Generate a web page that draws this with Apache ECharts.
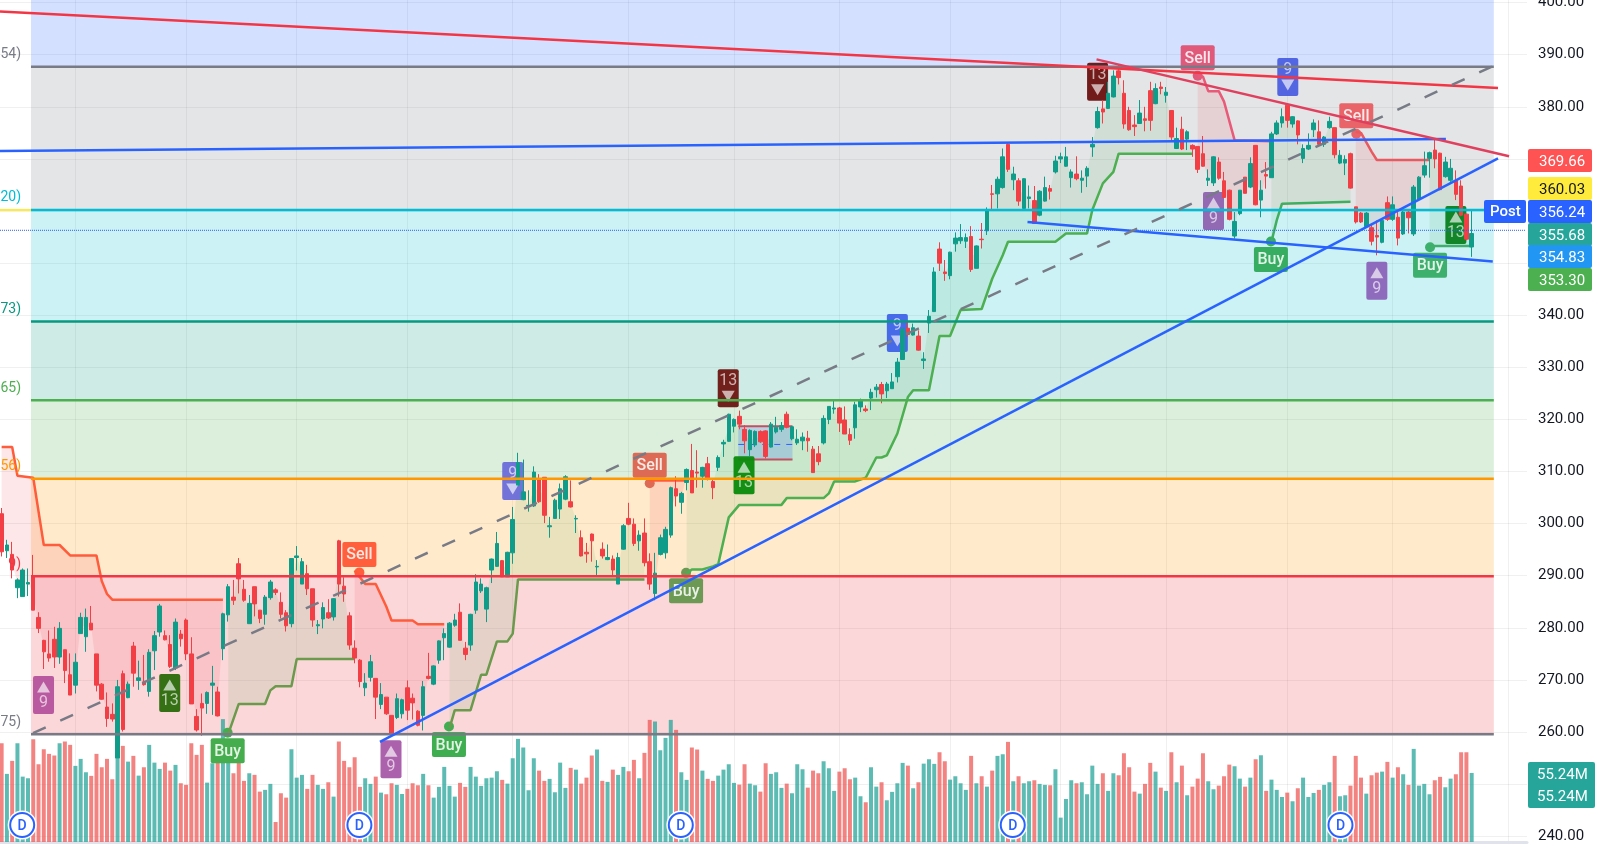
<!DOCTYPE html>
<html>
<head>
<meta charset="utf-8">
<title>Chart</title>
<style>
html, body { margin: 0; padding: 0; background: #fff; }
#chart { width: 1600px; height: 851px; }
</style>
<script src="https://cdn.jsdelivr.net/npm/echarts@6/dist/echarts.min.js"></script>
</head>
<body>
<div id="chart"></div>
<script>
// open, close, low, high
const candles = [
[301.9,294.6,293.7,303.0],[294.8,295.9,293.4,296.9],[294.1,291.1,289.5,296.5],[287.7,289.2,285.7,289.5],[286.0,291.1,286.0,291.4],
[288.4,288.7,286.1,291.4],[290.0,283.4,283.4,294.0],[282.0,279.9,279.0,283.0],[277.6,275.4,272.1,277.7],[275.0,274.2,273.5,279.5],
[277.8,274.4,272.3,280.2],[274.4,279.9,273.1,281.1],[275.8,271.8,269.4,275.8],[271.0,267.1,267.1,275.1],[269.0,273.4,267.4,275.1],
[278.9,282.0,278.9,282.9],[278.3,282.0,275.4,283.7],[280.9,279.6,279.6,284.2],[275.0,269.0,267.8,275.0],[269.2,266.3,266.2,269.4],
[264.8,262.6,261.0,267.6],[263.4,262.5,262.0,265.5],[255.0,268.7,255.0,270.0],[271.2,260.5,260.1,271.8],[266.6,269.2,266.5,269.7],
[276.5,271.3,268.7,277.3],[269.9,270.4,268.1,273.7],[269.6,269.1,268.9,274.8],[267.8,275.3,266.8,275.9],[275.6,278.5,271.9,279.4],
[279.2,284.2,278.3,284.6],[278.5,277.7,277.6,279.5],[276.8,272.6,272.3,278.6],[272.3,281.1,271.9,281.8],[278.8,277.9,276.4,279.6],
[281.5,275.0,273.8,281.8],[275.0,265.4,265.4,278.2],[263.0,260.4,260.1,264.4],[265.5,264.6,259.3,267.4],[265.5,267.6,263.5,267.8],
[269.0,269.4,263.3,272.7],[267.7,263.1,263.0,268.7],[276.0,282.7,273.8,282.9],[282.5,287.9,281.2,288.4],[285.9,285.3,284.4,289.2],
[292.3,289.4,286.6,293.4],[287.4,285.3,285.0,289.2],[280.8,284.7,280.8,286.3],[287.9,284.6,282.2,287.9],[283.4,281.8,280.9,283.4],
[282.6,285.9,280.6,286.3],[285.8,288.8,285.4,289.2],[287.3,286.8,286.3,287.6],[284.9,282.6,281.8,286.8],[282.9,280.4,279.3,283.4],
[280.8,293.3,280.1,293.3],[293.5,293.8,291.0,295.7],[288.4,292.7,288.4,293.4],[290.4,287.5,286.3,292.1],[287.5,281.5,280.2,287.5],
[280.4,280.6,278.8,281.5],[281.7,283.9,279.9,284.9],[282.9,281.9,281.7,285.5],[282.1,285.6,281.4,285.7],[296.7,288.4,286.0,296.9],
[288.0,286.5,285.0,289.7],[282.3,276.7,275.8,283.0],[276.1,274.2,273.2,277.6],[273.8,269.7,268.6,274.0],[268.5,269.4,266.9,271.3],
[270.5,273.5,269.7,274.8],[270.3,266.7,262.5,270.3],[265.3,267.2,264.4,269.4],[266.7,263.5,263.3,266.7],[263.2,259.6,259.4,263.2],
[262.8,266.4,262.5,267.4],[263.5,266.2,262.6,266.4],[268.5,264.2,262.3,269.9],[266.5,265.6,262.4,267.4],[264.0,261.3,261.1,264.2],
[263.2,268.7,260.3,269.8],[270.7,270.3,270.1,275.2],[269.2,272.7,269.0,272.8],[273.8,277.5,273.1,277.6],[278.1,278.9,273.8,279.9],
[276.3,280.9,276.2,281.1],[280.5,281.5,280.2,282.7],[283.0,277.6,277.6,284.7],[276.1,274.9,273.8,277.3],[276.7,282.6,275.6,282.7],
[283.4,288.8,282.7,290.3],[287.1,288.4,286.7,289.5],[283.6,287.7,281.1,287.9],[291.1,293.2,288.6,293.3],[291.8,296.2,291.7,298.4],
[292.9,289.8,289.8,293.0],[289.8,294.5,289.8,294.6],[294.4,300.8,292.3,303.2],[307.4,311.7,307.4,313.6],[304.6,306.1,304.5,312.3],
[303.4,303.5,302.3,306.4],[303.4,309.9,303.2,311.0],[308.6,304.2,304.0,309.5],[308.9,301.6,300.1,308.9],[299.4,299.6,297.3,301.3],
[301.0,304.5,301.0,304.8],[302.8,306.7,300.9,307.7],[304.7,309.0,304.5,309.3],[304.2,303.2,303.1,308.3],[300.9,301.0,298.2,301.6],
[297.3,293.8,293.7,298.7],[294.5,294.2,292.5,296.3],[298.0,296.7,292.7,298.1],[291.7,291.8,290.0,293.0],[295.1,293.8,293.3,296.4],
[293.1,293.5,293.0,296.0],[293.2,291.1,290.1,293.9],[288.4,293.5,288.4,294.4],[295.1,299.6,295.0,299.9],[301.0,299.9,299.7,304.0],
[299.9,296.2,295.7,301.0],[296.7,297.8,294.8,298.7],[298.2,292.5,291.8,301.0],[292.7,288.4,287.3,294.3],[286.6,290.5,285.3,294.4],
[294.1,297.3,293.9,297.9],[294.4,298.9,293.3,299.4],[297.8,306.9,297.3,307.1],[306.7,305.3,303.3,309.1],[304.1,305.8,301.9,306.1],
[307.9,310.4,306.4,310.6],[310.2,305.9,305.9,315.3],[309.9,309.7,306.9,314.1],[309.1,310.8,306.9,310.9],[311.5,308.6,308.3,312.8],
[308.1,306.9,304.7,308.5],[310.8,312.7,310.1,313.1],[315.3,315.6,312.8,316.1],[315.8,321.0,315.7,321.1],[318.7,320.0,317.5,320.2],
[320.6,319.1,318.1,321.7],[318.1,315.9,313.5,318.9],[314.2,317.9,312.8,318.1],[315.1,317.7,314.7,317.9],[317.7,315.7,315.5,317.9],
[317.8,312.9,312.5,317.9],[314.7,319.1,314.6,319.5],[317.6,318.5,317.3,320.5],[318.1,318.8,317.6,319.5],[321.0,318.5,318.3,321.5],
[316.3,318.6,316.0,318.7],[315.5,316.2,315.1,318.1],[315.9,316.6,314.1,317.5],[316.4,315.9,313.8,317.8],[314.3,309.8,309.8,314.9],
[313.4,311.9,311.2,314.9],[315.5,320.2,315.2,320.8],[320.0,322.5,319.1,322.5],[322.0,322.2,321.1,323.6],[322.2,319.3,317.6,322.4],
[319.9,317.2,317.2,322.5],[317.1,316.0,315.1,318.3],[318.4,322.8,316.3,323.4],[322.4,323.6,321.4,324.0],[322.0,321.7,321.4,322.7],
[324.1,325.2,321.8,325.9],[325.7,326.2,324.2,326.8],[326.7,324.9,323.1,327.2],[325.5,326.8,324.1,327.2],[325.9,327.2,325.9,328.9],
[328.2,331.0,327.1,331.8],[331.5,337.3,331.5,337.5],[337.5,336.3,335.9,338.7],[336.2,337.6,336.1,338.4],[336.0,333.3,333.2,337.1],
[331.3,331.6,329.7,332.9],[338.5,339.8,336.6,341.0],[340.7,348.3,340.7,349.2],[352.7,350.0,348.5,354.0],[348.3,348.0,346.6,350.6],
[347.6,352.1,346.9,352.2],[353.7,354.8,352.2,355.9],[354.3,354.9,353.7,357.5],[354.2,354.9,352.9,355.7],[355.1,348.8,348.3,357.1],
[349.0,353.3,349.0,353.4],[354.6,354.5,352.8,357.7],[356.2,360.3,355.4,360.7],[363.3,363.2,360.2,365.0],[363.3,366.1,360.5,366.6],
[364.5,370.4,364.3,372.0],[372.8,368.0,367.5,373.0],[366.0,367.1,364.0,368.5],[365.8,361.9,361.0,366.3],[360.5,366.2,360.5,366.3],
[362.4,362.7,360.5,364.9],[362.0,357.6,357.6,364.8],[359.2,363.8,359.0,364.0],[361.9,364.5,361.8,366.6],[364.3,363.8,362.2,365.0],
[367.5,369.6,367.2,370.6],[370.0,370.4,369.2,371.2],[368.6,370.4,368.5,372.3],[366.4,367.5,364.5,368.0],[367.1,366.2,365.9,370.5],
[365.9,366.3,363.5,367.8],[366.7,368.2,364.6,368.6],[372.3,372.8,370.4,374.2],[376.0,379.1,375.8,380.0],[379.6,379.0,376.8,381.3],
[379.7,382.6,379.6,384.8],[381.9,385.9,381.8,387.0],[386.9,385.6,384.3,388.0],[382.6,376.7,375.8,385.1],[379.3,375.6,375.4,380.0],
[376.5,376.2,374.4,378.4],[376.8,378.8,376.7,381.3],[377.7,377.4,375.3,380.0],[383.1,377.4,375.4,384.8],[380.6,383.5,380.5,384.5],
[383.8,383.5,382.4,384.8],[382.2,382.8,380.8,383.8],[379.3,374.2,373.3,379.3],[372.0,373.9,371.9,376.0],[375.7,371.9,371.7,378.1],
[373.8,375.2,371.7,375.5],[372.6,371.9,370.4,372.8],[372.4,368.0,367.3,372.4],[371.0,368.6,368.5,374.4],[365.9,366.3,364.8,368.0],
[365.4,370.4,364.8,370.5],[369.4,366.3,366.0,370.3],[365.8,362.6,362.5,367.5],[364.0,358.4,358.2,364.1],[355.2,358.0,354.7,359.8],
[359.5,364.0,359.2,364.0],[366.5,363.4,363.4,366.5],[364.6,369.1,364.4,370.3],[372.6,361.2,361.1,372.6],[362.1,364.0,358.8,365.9],
[367.0,366.7,364.3,369.4],[366.4,374.8,366.4,375.2],[374.8,376.9,374.6,377.4],[376.9,378.1,376.0,379.7],[380.3,377.4,376.0,380.3],
[376.7,378.1,376.0,378.2],[377.3,374.6,372.8,377.4],[370.1,372.0,369.2,372.8],[371.9,372.6,371.7,374.9],[375.6,376.9,374.2,377.6],
[375.2,372.8,372.6,377.4],[372.8,374.2,372.3,374.4],[376.0,377.2,375.8,378.1],[376.0,370.8,370.1,376.0],[369.2,370.7,369.0,371.7],
[369.2,369.9,366.9,370.7],[371.0,364.4,364.3,371.2],[360.8,357.9,357.6,360.8],[359.6,357.9,357.7,359.8],[357.0,359.6,356.8,359.8],
[356.8,354.2,353.4,357.3],[355.3,355.0,351.5,358.2],[354.0,358.2,353.8,358.6],[361.6,358.4,358.1,362.8],[358.4,361.2,358.1,362.8],
[358.8,354.8,353.4,360.2],[355.6,359.8,355.4,360.2],[359.8,358.7,355.7,360.2],[355.6,364.6,355.2,365.0],[362.2,366.5,362.1,366.7],
[366.9,368.7,366.4,371.4],[370.1,371.2,366.4,371.4],[371.7,370.0,368.2,373.7],[371.1,364.1,364.0,371.2],[366.6,369.4,366.4,370.4],
[365.9,368.2,365.6,370.0],[365.8,363.2,362.1,367.8],[364.8,359.2,359.0,365.9],[359.4,354.6,354.4,359.5],[353.1,355.68,351.2,360.2]
];

// millions
const volumes = [
79.0,54.5,64.9,79.0,52.3,51.0,82.2,62.2,74.2,70.5,69.2,79.0,80.4,77.7,60.9,66.5,55.8,52.9,70.5,59.8,
66.5,50.2,67.0,76.9,64.3,68.9,53.1,59.8,77.7,63.5,58.5,63.5,57.1,61.7,47.0,45.7,79.0,69.7,77.7,47.5,
63.0,64.3,98.3,65.7,55.0,65.7,48.9,55.0,53.7,40.3,41.7,46.5,16.0,39.0,35.5,74.2,51.5,53.7,42.5,53.7,
45.7,42.5,47.8,36.3,80.4,64.9,59.8,67.8,44.1,51.0,46.5,52.3,39.5,38.2,47.0,45.7,38.4,42.5,47.0,45.4,
54.5,45.4,35.5,44.1,60.1,44.9,36.3,47.3,44.1,60.1,52.3,44.9,51.0,51.5,56.6,49.7,46.7,67.0,82.5,75.6,
41.4,67.0,57.1,48.9,50.5,39.8,63.5,43.3,59.3,57.9,46.7,51.5,69.2,74.0,48.9,48.1,57.9,53.7,60.1,56.6,
65.7,51.0,71.3,97.7,96.4,73.4,83.3,97.7,89.7,55.8,49.7,75.6,74.0,57.1,50.5,48.9,53.1,57.9,62.2,47.3,
45.9,62.2,46.7,45.4,40.3,63.0,54.5,55.8,43.3,46.7,39.0,62.2,58.2,43.5,57.1,55.0,64.6,59.0,40.9,56.3,
59.0,50.2,51.5,36.6,31.8,59.8,44.3,47.8,33.4,40.1,47.0,63.3,61.1,43.0,47.8,62.7,66.2,62.5,71.8,64.6,
49.9,52.6,47.0,41.7,68.9,47.0,52.6,44.3,57.1,68.9,70.2,80.1,48.6,52.6,47.0,48.6,49.4,46.5,45.7,45.4,
58.2,19.5,34.4,49.4,47.0,47.8,38.2,61.1,46.5,55.0,40.9,55.0,53.4,71.0,59.8,40.3,38.7,46.5,63.3,56.3,
43.5,40.9,71.8,47.8,61.1,37.4,44.3,50.7,71.0,48.6,42.2,45.1,52.6,61.9,60.6,50.7,44.3,51.5,66.2,69.4,
40.9,49.9,41.7,36.0,39.5,32.6,43.0,51.5,36.0,39.2,41.7,45.7,47.8,68.9,36.6,37.4,45.1,68.9,51.5,38.7,
53.4,55.5,56.3,64.1,51.5,59.8,54.2,45.7,74.5,45.1,46.5,38.2,49.4,52.1,43.8,50.7,54.2,71.8,71.8,55.24
];

const slotCount = 290;
const priceLabels = [400,390,380,340,330,320,310,300,290,280,270,260,240];
const priceGrid = [240,250,260,270,280,290,300,310,320,330,340,350,360,370,380,390,400];
const dateLines = [14.5,35.5,56.5,77.5,97.5,119.5,139.5,159.5,180.5,201.5,221.5,244.5,264.5,286.5];

// fib levels from the top down, each zone is filled up to the level above
const fibStart = 6.07, fibEnd = 283.7;
const fibLevels = [387.7,360.2,338.8,323.7,308.6,289.9,259.6];
const fibColors = ['#787b86','#00bcd4','#089981','#4caf50','#ff9800','#f23645','#787b86'];
const fibZoneColors = ['rgba(41,98,255,.2)','rgba(120,123,134,.2)','rgba(0,188,212,.2)','rgba(8,153,129,.2)','rgba(76,175,80,.2)','rgba(255,152,0,.2)','rgba(242,54,69,.2)'];
const fibTags = ['54)','20)','73)','65)','56)','9)','75)'];

// supertrend pieces, [bar, price]
const redTrends = [
  [[0,314.7],[2,314.7],[3,309.2],[6,308.8],[8,295.9],[11,295.9],[13,293.9],[18,293.9],[19,289],[20,286.5],[21,285.4],[42,285.4]],
  [[67,291],[69,288.4],[71,288.4],[73,284.1],[74,281.4],[78,281.4],[79,280.7],[84,280.7]],
  [[123,308.3],[130,308.3]],
  [[227,385.8],[228,385.8],[229,383],[231,383],[232,381],[234,373.6],[241,373.4]],
  [[257,375.2],[258,375],[260,371.4],[261,369.8],[271,369.8]]
];
const redTrendColors = ['#ff5c3c','#ff5c3c','#ff5c3c','#e85a78','#e85a60'];
const greenTrends = [
  [[43,259.6],[45,265.4],[50,265.4],[51,268],[52,268.8],[55,268.8],[56,274],[67,274]],
  [[85,260.7],[86,264.2],[89,264.2],[91,271],[92,271],[94,277.4],[96,277.4],[97,278.9],[98,289.3],[122,289.3]],
  [[130,290.4],[131,291.2],[133,291.2],[135,291.8],[136,292.2],[138,301.2],[140,303.6],[148,303.6],[149,304.9],[156,304.9],[157,305.8],[158,308.1],[162,308.1],[164,308.8],[166,312.7],[167,312.7],[168,313.1],[170,317.3],[172,324.3],[173,325.6],[176,325.6],[178,336],[180,336],[182,341],[186,341.2],[188,347],[190,351.5],[191,354.1],[200,354.1],[202,355.7],[206,355.7],[207,360.2],[209,365.3],[211,367.5],[212,371],[226,371]],
  [[241,354.1],[242,358.2],[243,361.4],[256,361.8]],
  [[271,353.1],[272,353.3],[279,353.3]]
];
const greenTrendColors = ['#6b9a4c','#6b9a4c','#4caf50','#3fae5f','#3fae6a'];

// drawn lines
const trendLines = [
  {from:[0.19,398.3], to:[284.5,383.6], color:'#f23645'},
  {from:[0.19,371.5], to:[274.6,373.8], color:'#2962ff'},
  {from:[208.3,389.1], to:[286.6,370.5], color:'#e0405e'},
  {from:[72.3,258.1], to:[284.5,370.1], color:'#2962ff'},
  {from:[195.2,357.9], to:[283.5,350.3], color:'#2962ff'},
  {from:[6.45,259.8], to:[283.5,387.8], color:'#787b86', type:[14,16]}
];
const preMarketPrice = 360.2, postPrice = 356.3;
const boxRange = {x0:140.3, x1:150.6, top:318.7, mid:315.2, bottom:312.3};

const tdMarks = [
  {x:8.45,y:267.1,n:'9',up:true,c:'#b5529c'},{x:32.4,y:267.5,n:'13',up:true,c:'#2a6a0a'},{x:74.4,y:254.8,n:'9',up:true,c:'#a858a8'},
  {x:97.5,y:308.2,n:'9',up:false,c:'#6a6cd8'},{x:138.4,y:326.0,n:'13',up:false,c:'#6b1510'},{x:141.4,y:309.3,n:'13',up:true,c:'#0a8a0a'},
  {x:170.5,y:336.6,n:'9',up:false,c:'#3f63e8'},{x:208.5,y:384.8,n:'13',up:false,c:'#6b1010'},{x:230.5,y:360.0,n:'9',up:true,c:'#8e62b0'},
  {x:244.6,y:385.7,n:'9',up:false,c:'#4b5ee0'},{x:261.5,y:346.6,n:'9',up:true,c:'#8a63b8'},{x:276.5,y:357.3,n:'13',up:true,c:'#0a7f1f'}
];
const signalMarks = [
  {x:68.4,y:294.1,t:'Sell',c:'#ff5f3c'},{x:43.4,y:256.4,t:'Buy',c:'#45ad4e'},{x:85.4,y:257.6,t:'Buy',c:'#3fae50'},
  {x:123.5,y:311.2,t:'Sell',c:'#dc6a55'},{x:130.4,y:287.1,t:'Buy',c:'#6c9a55'},{x:227.5,y:389.4,t:'Sell',c:'#e0587a'},
  {x:241.4,y:350.7,t:'Buy',c:'#37ad62'},{x:257.6,y:378.3,t:'Sell',c:'#e86468'},{x:271.6,y:349.6,t:'Buy',c:'#3cb06c'}
];
const dividendBars = [4.4,68.4,129.4,192.4,254.6];

const priceTags = [
  {text:'369.66', top:149, fill:'#ff5252', color:'#fff'},
  {text:'360.03', top:177, fill:'#ffeb3b', color:'#131722'},
  {text:'356.24', top:200, fill:'#2962ff', color:'#fff'},
  {text:'355.68', top:223, fill:'#26a69a', color:'#fff'},
  {text:'354.83', top:245, fill:'#2196f3', color:'#fff'},
  {text:'353.30', top:268, fill:'#4caf50', color:'#fff'}
];
const volumeTags = ['55.24M','55.24M'];

const UP = '#0f9d8a', DOWN = '#f23f45';
const FONT = 'Roboto, sans-serif';

function customSeries(rows, z, build) {
    return {
        type: 'custom',
        xAxisIndex: 1,
        yAxisIndex: 0,
        z: z,
        silent: true,
        data: rows.map((r, i) => [i, 300]),
        encode: {x: 0, y: 1},
        renderItem: (params, api) => build(rows[params.dataIndex], api)
    }
}

function lineSeries(points, color, z, width, type) {
    return {
        type: 'line',
        xAxisIndex: 1,
        yAxisIndex: 0,
        z: z,
        silent: true,
        showSymbol: false,
        data: points,
        lineStyle: {color: color, width: width || 2.5, type: type || 'solid'}
    }
}

const series = []

// fib zones
series.push(customSeries(fibLevels.map((v, i) => i), 1, (i, api) => {
    const top = i === 0 ? 400.5 : fibLevels[i - 1]
    const a = api.coord([fibStart, top])
    const b = api.coord([fibEnd, fibLevels[i]])
    return {type: 'rect', shape: {x: a[0], y: a[1], width: b[0] - a[0], height: b[1] - a[1]}, style: {fill: fibZoneColors[i]}}
}))

// volume
series.push({
    type: 'bar',
    xAxisIndex: 0,
    yAxisIndex: 1,
    z: 2,
    silent: true,
    barWidth: 4,
    data: volumes.map((v, i) => ({
        value: v,
        itemStyle: {color: candles[i][1] >= candles[i][0] ? 'rgba(38,166,154,.75)' : 'rgba(239,83,80,.72)'}
    }))
})

// supertrend fill between the line and the candle middle
function trendFill(seg, color) {
    return (unused, api) => {
        const pts = seg.map(p => api.coord([p[0] + 0.5, p[1]]))
        for (let i = seg[seg.length - 1][0]; i >= seg[0][0]; i--) {
            pts.push(api.coord([i + 0.5, (candles[i][0] + candles[i][1]) / 2]))
        }
        return {type: 'polygon', shape: {points: pts}, style: {fill: color}}
    }
}
redTrends.forEach(seg => series.push(customSeries([0], 3, trendFill(seg, 'rgba(242,54,69,.12)'))))
greenTrends.forEach(seg => series.push(customSeries([0], 3, trendFill(seg, 'rgba(76,175,80,.12)'))))

// small range box
series.push(customSeries([boxRange], 3, (b, api) => {
    const a = api.coord([b.x0, b.top])
    const c = api.coord([b.x1, b.bottom])
    const m = api.coord([b.x0, b.mid])
    return {type: 'group', children: [
        {type: 'rect', shape: {x: a[0], y: a[1], width: c[0] - a[0], height: c[1] - a[1]}, style: {fill: 'rgba(41,98,255,.2)'}},
        {type: 'line', shape: {x1: a[0], y1: m[1], x2: c[0], y2: m[1]}, style: {stroke: '#2962ff', lineWidth: 1, lineDash: [6, 6]}},
        {type: 'line', shape: {x1: a[0], y1: a[1], x2: c[0], y2: a[1]}, style: {stroke: '#c2505f', lineWidth: 2}},
        {type: 'line', shape: {x1: a[0], y1: c[1], x2: c[0], y2: c[1]}, style: {stroke: '#c2505f', lineWidth: 2}}
    ]}
}))

// TD count marks
series.push(customSeries(tdMarks, 4, (m, api) => {
    const p = api.coord([m.x, m.y])
    const cx = p[0], cy = p[1]
    const triY = m.up ? cy - 8 : cy + 8
    const numY = m.up ? cy + 8 : cy - 7
    const tri = m.up
        ? [[cx - 6.5, triY + 5.5], [cx + 6.5, triY + 5.5], [cx, triY - 5.5]]
        : [[cx - 6.5, triY - 5.5], [cx + 6.5, triY - 5.5], [cx, triY + 5.5]]
    return {type: 'group', children: [
        {type: 'rect', shape: {x: cx - 10.5, y: cy - 19, width: 21, height: 38, r: 2}, style: {fill: m.c, opacity: 0.95}},
        {type: 'polygon', shape: {points: tri}, style: {fill: 'rgba(255,255,255,.65)'}},
        {type: 'text', style: {x: cx, y: numY, text: m.n, align: 'center', verticalAlign: 'middle', fill: 'rgba(255,255,255,.65)', font: '16px ' + FONT}}
    ]}
}))

// Buy / Sell marks
series.push(customSeries(signalMarks, 4, (m, api) => {
    const p = api.coord([m.x, m.y])
    const cx = p[0], cy = p[1]
    const dir = m.t === 'Sell' ? 1 : -1
    return {type: 'group', children: [
        {type: 'circle', shape: {cx: cx, cy: cy + dir * 18, r: 5}, style: {fill: m.c}},
        {type: 'rect', shape: {x: cx - 17, y: cy - 12.5, width: 34, height: 25, r: 2}, style: {fill: m.c}},
        {type: 'text', style: {x: cx, y: cy + 1, text: m.t, align: 'center', verticalAlign: 'middle', fill: 'rgba(255,255,255,.85)', font: '500 16px ' + FONT}}
    ]}
}))

redTrends.forEach((seg, i) => series.push(lineSeries(seg.map(p => [p[0] + 0.5, p[1]]), redTrendColors[i], 5)))
greenTrends.forEach((seg, i) => series.push(lineSeries(seg.map(p => [p[0] + 0.5, p[1]]), greenTrendColors[i], 5)))

series.push({
    type: 'candlestick',
    xAxisIndex: 0,
    yAxisIndex: 0,
    z: 6,
    silent: true,
    barWidth: 4,
    data: candles,
    itemStyle: {color: UP, color0: DOWN, borderColor: UP, borderColor0: DOWN, borderColorDoji: UP, borderWidth: 1}
})

// fib and price lines
series.push(lineSeries([[0.19, preMarketPrice], [289.8, preMarketPrice]], '#ffeb3b', 7, 2))
fibLevels.forEach((v, i) => series.push(lineSeries([[fibStart, v], [fibEnd, v]], fibColors[i], 7, 2.5)))
series.push(lineSeries([[0.19, postPrice], [289.8, postPrice]], '#2962ff', 7, 1, 'dotted'))
trendLines.forEach(t => series.push(lineSeries([t.from, t.to], t.color, 8, 2.5, t.type)))

// cut off level tags on the left
series.push(customSeries(fibTags, 8, (t, api) => {
    const i = fibTags.indexOf(t)
    const p = api.coord([4.18, fibLevels[i]])
    return {type: 'text', style: {x: p[0], y: p[1] - 12, text: t, align: 'right', verticalAlign: 'middle', fill: fibColors[i], font: '14px ' + FONT}}
}))

// D markers in the volume pane
series.push(customSeries(dividendBars, 9, (x, api) => {
    const p = api.coord([x, 242.15])
    return {type: 'group', children: [
        {type: 'circle', shape: {cx: p[0], cy: p[1], r: 14.5}, style: {fill: '#fff'}},
        {type: 'circle', shape: {cx: p[0], cy: p[1], r: 12}, style: {fill: '#fff', stroke: '#2962ff', lineWidth: 2}},
        {type: 'text', style: {x: p[0], y: p[1] + 1, text: 'D', align: 'center', verticalAlign: 'middle', fill: '#2962ff', font: '500 14px ' + FONT}}
    ]}
}))

function tag(left, top, width, height, fill, text, color) {
    return [
        {type: 'rect', left: left, top: top, z: 100, shape: {width: width, height: height, r: 2}, style: {fill: fill}},
        {type: 'text', left: left + 11, top: top + height / 2 - 6, z: 101, style: {text: text, fill: color, font: '15px ' + FONT}}
    ]
}

const graphic = []
priceTags.forEach(t => graphic.push(...tag(1528, t.top, 64, 23, t.fill, t.text, t.color)))
graphic.push({type: 'rect', left: 1484, top: 200, z: 100, shape: {width: 42, height: 23, r: 2}, style: {fill: '#2962ff'}})
graphic.push({type: 'text', left: 1490, top: 205, z: 101, style: {text: 'Post', fill: '#fff', font: '500 15px ' + FONT}})
graphic.push({type: 'rect', left: 1528, top: 762, z: 100, shape: {width: 67, height: 46, r: 2}, style: {fill: '#26a69a'}})
volumeTags.forEach((t, i) => graphic.push({type: 'text', left: 1537, top: 768 + i * 22, z: 101, style: {text: t, fill: '#fff', font: '15px ' + FONT}}))

const option = {
    animation: false,
    backgroundColor: '#ffffff',
    grid: {left: -1, top: 0, width: 1528, height: 842, containLabel: false, outerBoundsMode: 'none'},
    xAxis: [
        {
            type: 'category',
            data: Array.from({length: slotCount}, (v, i) => String(i)),
            boundaryGap: true,
            show: false
        },
        {
            type: 'value',
            min: 0,
            max: slotCount,
            position: 'bottom',
            axisLine: {show: true, onZero: false, lineStyle: {color: '#e0e3eb', width: 3}},
            axisLabel: {show: false},
            axisTick: {show: false, customValues: dateLines},
            splitLine: {show: true, lineStyle: {color: 'rgba(42,46,57,.07)'}}
        }
    ],
    yAxis: [
        {
            type: 'value',
            min: 238.9,
            max: 400.5,
            position: 'right',
            axisLine: {show: true, lineStyle: {color: '#e0e3eb'}},
            axisTick: {show: false, customValues: priceGrid},
            axisLabel: {
                customValues: priceLabels,
                margin: 11,
                padding: [4, 0, 0, 0],
                color: '#131722',
                fontFamily: 'Roboto',
                fontSize: 15,
                formatter: v => v.toFixed(2)
            },
            splitLine: {show: true, lineStyle: {color: 'rgba(42,46,57,.07)'}}
        },
        {
            type: 'value',
            min: 0,
            max: 673.6,
            show: false
        }
    ],
    series: series,
    graphic: graphic
}

const chart = echarts.init(document.getElementById('chart'))
chart.setOption(option)
</script>
</body>
</html>
